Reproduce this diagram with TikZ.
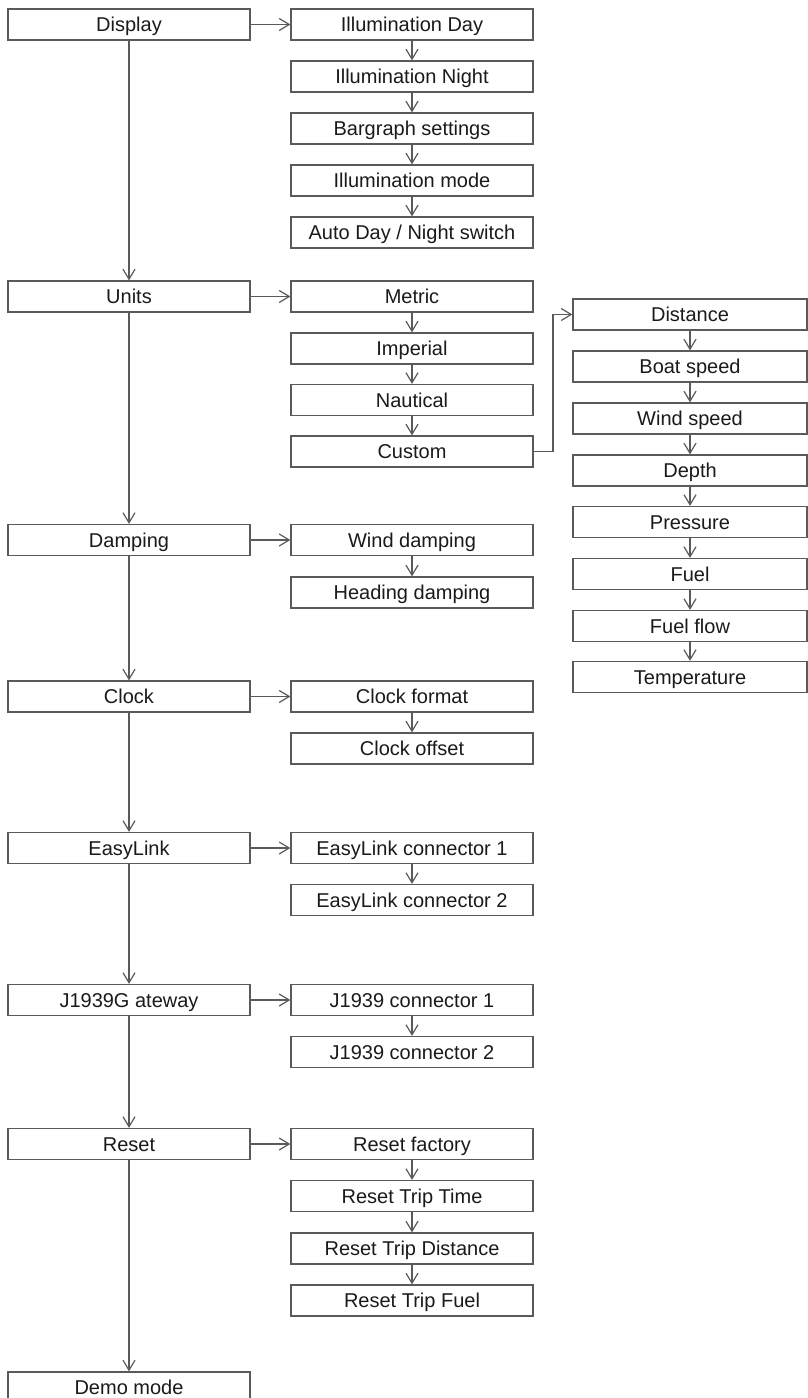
\documentclass[tikz,border=0pt]{standalone}
\usepackage{fontspec}
\setmainfont{Liberation Sans}
\usetikzlibrary{arrows.meta}
\definecolor{linec}{HTML}{5A5A5A}
\definecolor{txtc}{HTML}{1A1A1A}
\tikzset{
  box/.style={draw=linec, line width=1.3pt, fill=white, minimum height=31pt, inner sep=0pt, text height=14pt, text depth=0pt, text=txtc, font=\fontsize{20}{22}\selectfont},
  lbox/.style={box, minimum width=242pt},
  mbox/.style={box, minimum width=242pt},
  rbox/.style={box, minimum width=234pt},
  arr/.style={draw=linec, line width=1.3pt, -{Straight Barb[length=10pt,width=12pt,line width=1.2pt]}}
}
\begin{document}
\begin{tikzpicture}[x=1pt,y=1pt]
\useasboundingbox (0,0) rectangle (808,-1398);
\clip (0,0) rectangle (808,-1398);
% left column
\node[lbox] (display) at (129,-24.5) {Display};
\node[lbox] (units) at (129,-296.5) {Units};
\node[lbox] (damping) at (129,-540) {Damping};
\node[lbox] (clock) at (129,-696.5) {Clock};
\node[lbox] (easylink) at (129,-848) {EasyLink};
\node[lbox] (j1939) at (129,-1000) {J1939G ateway};
\node[lbox] (reset) at (129,-1144) {Reset};
\node[lbox] (demo) at (129,-1387.5) {Demo mode};
% middle column
\node[mbox] (illday) at (412,-24.5) {Illumination Day};
\node[mbox] (illnight) at (412,-76.5) {Illumination Night};
\node[mbox] (bargraph) at (412,-128.5) {Bargraph settings};
\node[mbox] (illmode) at (412,-180.5) {Illumination mode};
\node[mbox] (autoday) at (412,-232.5) {Auto Day / Night switch};
\node[mbox] (metric) at (412,-296.5) {Metric};
\node[mbox] (imperial) at (412,-348.5) {Imperial};
\node[mbox] (nautical) at (412,-400) {Nautical};
\node[mbox] (custom) at (412,-451.5) {Custom};
\node[mbox] (winddamp) at (412,-540) {Wind damping};
\node[mbox] (headdamp) at (412,-592.5) {Heading damping};
\node[mbox] (clockfmt) at (412,-696.5) {Clock format};
\node[mbox] (clockoff) at (412,-748.5) {Clock offset};
\node[mbox] (elone) at (412,-848) {EasyLink connector 1};
\node[mbox] (eltwo) at (412,-900) {EasyLink connector 2};
\node[mbox] (jone) at (412,-1000) {J1939 connector 1};
\node[mbox] (jtwo) at (412,-1052) {J1939 connector 2};
\node[mbox] (rfac) at (412,-1144) {Reset factory};
\node[mbox] (rtime) at (412,-1196) {Reset Trip Time};
\node[mbox] (rdist) at (412,-1248.5) {Reset Trip Distance};
\node[mbox] (rfuel) at (412,-1300.5) {Reset Trip Fuel};
% right column
\node[rbox] (distance) at (690,-314.5) {Distance};
\node[rbox] (boat) at (690,-366.5) {Boat speed};
\node[rbox] (wind) at (690,-418.5) {Wind speed};
\node[rbox] (depth) at (690,-470.5) {Depth};
\node[rbox] (pressure) at (690,-522) {Pressure};
\node[rbox] (fuel) at (690,-574) {Fuel};
\node[rbox] (fuelflow) at (690,-626) {Fuel flow};
\node[rbox] (temp) at (690,-677) {Temperature};
% left vertical
\draw[arr] (display.south) -- (units.north);
\draw[arr] (units.south) -- (damping.north);
\draw[arr] (damping.south) -- (clock.north);
\draw[arr] (clock.south) -- (easylink.north);
\draw[arr] (easylink.south) -- (j1939.north);
\draw[arr] (j1939.south) -- (reset.north);
\draw[arr] (reset.south) -- (demo.north);
% horizontal
\draw[arr] (display.east) -- (illday.west);
\draw[arr] (units.east) -- (metric.west);
\draw[arr] (damping.east) -- (winddamp.west);
\draw[arr] (clock.east) -- (clockfmt.west);
\draw[arr] (easylink.east) -- (elone.west);
\draw[arr] (j1939.east) -- (jone.west);
\draw[arr] (reset.east) -- (rfac.west);
% middle verticals
\draw[arr] (illday) -- (illnight);
\draw[arr] (illnight) -- (bargraph);
\draw[arr] (bargraph) -- (illmode);
\draw[arr] (illmode) -- (autoday);
\draw[arr] (metric) -- (imperial);
\draw[arr] (imperial) -- (nautical);
\draw[arr] (nautical) -- (custom);
\draw[arr] (winddamp) -- (headdamp);
\draw[arr] (clockfmt) -- (clockoff);
\draw[arr] (elone) -- (eltwo);
\draw[arr] (jone) -- (jtwo);
\draw[arr] (rfac) -- (rtime);
\draw[arr] (rtime) -- (rdist);
\draw[arr] (rdist) -- (rfuel);
% right verticals
\draw[arr] (distance) -- (boat);
\draw[arr] (boat) -- (wind);
\draw[arr] (wind) -- (depth);
\draw[arr] (depth) -- (pressure);
\draw[arr] (pressure) -- (fuel);
\draw[arr] (fuel) -- (fuelflow);
\draw[arr] (fuelflow) -- (temp);
% custom link
\coordinate (cbend) at (553,-451.5);
\draw[arr] (custom.east) -- (cbend) |- (distance.west);
\end{tikzpicture}
\end{document}
